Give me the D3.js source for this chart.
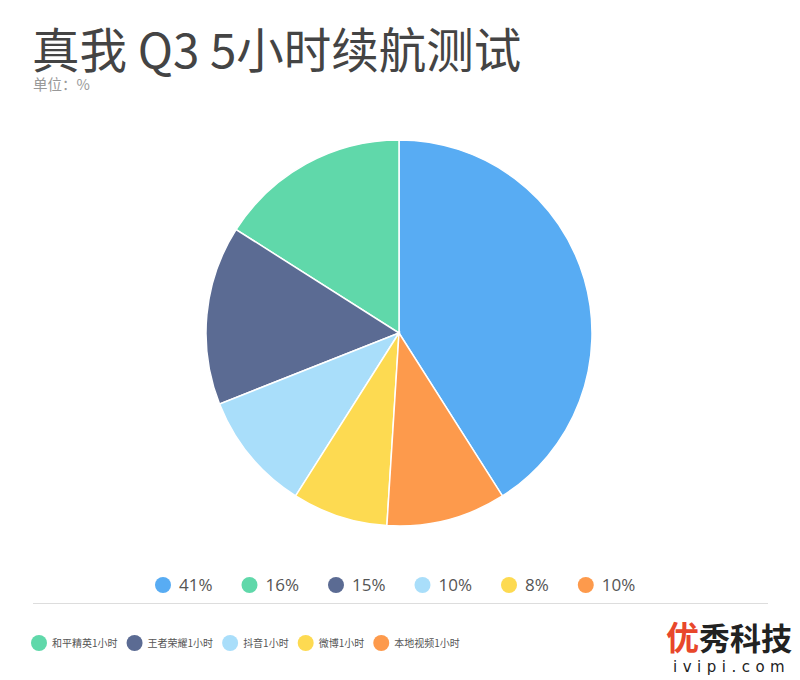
<!DOCTYPE html>
<html>
<head>
<meta charset="utf-8">
<script src="https://cdn.jsdelivr.net/npm/d3@7/dist/d3.min.js"></script>
<style>
  html, body { margin: 0; padding: 0; background: #fff; }
  svg { display: block; font-family: "Noto Sans CJK SC", "Noto Sans", sans-serif; }
</style>
</head>
<body>
<svg id="chart" width="800" height="680"></svg>
<script>
// ---- data ----
const title = "真我 Q3 5小时续航测试";
const unitLabel = "单位：%";
const sliceKeys = ["剩余电量", "和平精英1小时", "王者荣耀1小时", "抖音1小时", "微博1小时", "本地视频1小时"];
const sliceValues = [41, 16, 15, 10, 8, 10];
const sliceColors = ["#58acf3", "#60d8aa", "#5b6b93", "#a9defa", "#fdda51", "#fd9a4c"];
const legendNames = ["和平精英1小时", "王者荣耀1小时", "抖音1小时", "微博1小时", "本地视频1小时"];

const svg = d3.select("#chart");

// title
svg.append("text").attr("x", 32).attr("y", 68)
  .attr("font-size", 47.5).attr("fill", "#444").text(title);
svg.append("text").attr("x", 33).attr("y", 90)
  .attr("font-size", 14.5).attr("fill", "#999").text(unitLabel);

// pie
const cx = 399, cy = 333, R = 193;
const total = d3.sum(sliceValues);
const a0 = 2 * Math.PI * sliceValues[0] / total;
const pie = d3.pie().sort(null).value(d => d.v)
  .startAngle(a0).endAngle(a0 - 2 * Math.PI);
const arcs = pie(sliceValues.map((v, i) => ({ v, i })));
const arc = d3.arc().innerRadius(0).outerRadius(R);
const g = svg.append("g").attr("transform", `translate(${cx},${cy})`);
g.selectAll("path").data(arcs).join("path")
  .attr("d", arc)
  .attr("fill", d => sliceColors[d.data.i])
  .attr("stroke", "#fff").attr("stroke-width", 1.5);

// top legend (values)
const lg = svg.append("g");
let lx = 163;
sliceValues.forEach((v, i) => {
  lg.append("circle").attr("cx", lx).attr("cy", 585).attr("r", 8).attr("fill", sliceColors[i]);
  const t = lg.append("text").attr("x", lx + 16).attr("y", 591)
    .attr("font-size", 17).attr("font-family", "Open Sans").attr("fill", "#555").text(v + "%");
  const w = t.node().getComputedTextLength();
  lx = lx + 16 + w + 37;
});

// separator
svg.append("line").attr("x1", 33).attr("x2", 768).attr("y1", 603.5).attr("y2", 603.5)
  .attr("stroke", "#ddd").attr("stroke-width", 1);

// bottom legend (names)
const bg = svg.append("g");
let bx = 39;
legendNames.forEach((n, i) => {
  const k = sliceKeys.indexOf(n);
  bg.append("circle").attr("cx", bx).attr("cy", 643).attr("r", 8).attr("fill", sliceColors[k]);
  const t = bg.append("text").attr("x", bx + 13).attr("y", 646.5)
    .attr("font-size", 10).attr("fill", "#555").text(n);
  const w = t.node().getComputedTextLength();
  bx = bx + 13 + w + 17;
});

// watermark
const wm = svg.append("g");
wm.append("text").attr("x", 666).attr("y", 650).attr("font-size", 33).attr("font-weight", "bold")
  .attr("fill", "#e8472b").text("优");
wm.append("text").attr("x", 699).attr("y", 650).attr("font-size", 31).attr("font-weight", "bold")
  .attr("fill", "#222").text("秀科技");
wm.append("text").attr("x", 673).attr("y", 672).attr("font-size", 15).attr("font-family", "DejaVu Sans")
  .attr("letter-spacing", 5.5).attr("fill", "#222").text("ivipi.com");
</script>
</body>
</html>
